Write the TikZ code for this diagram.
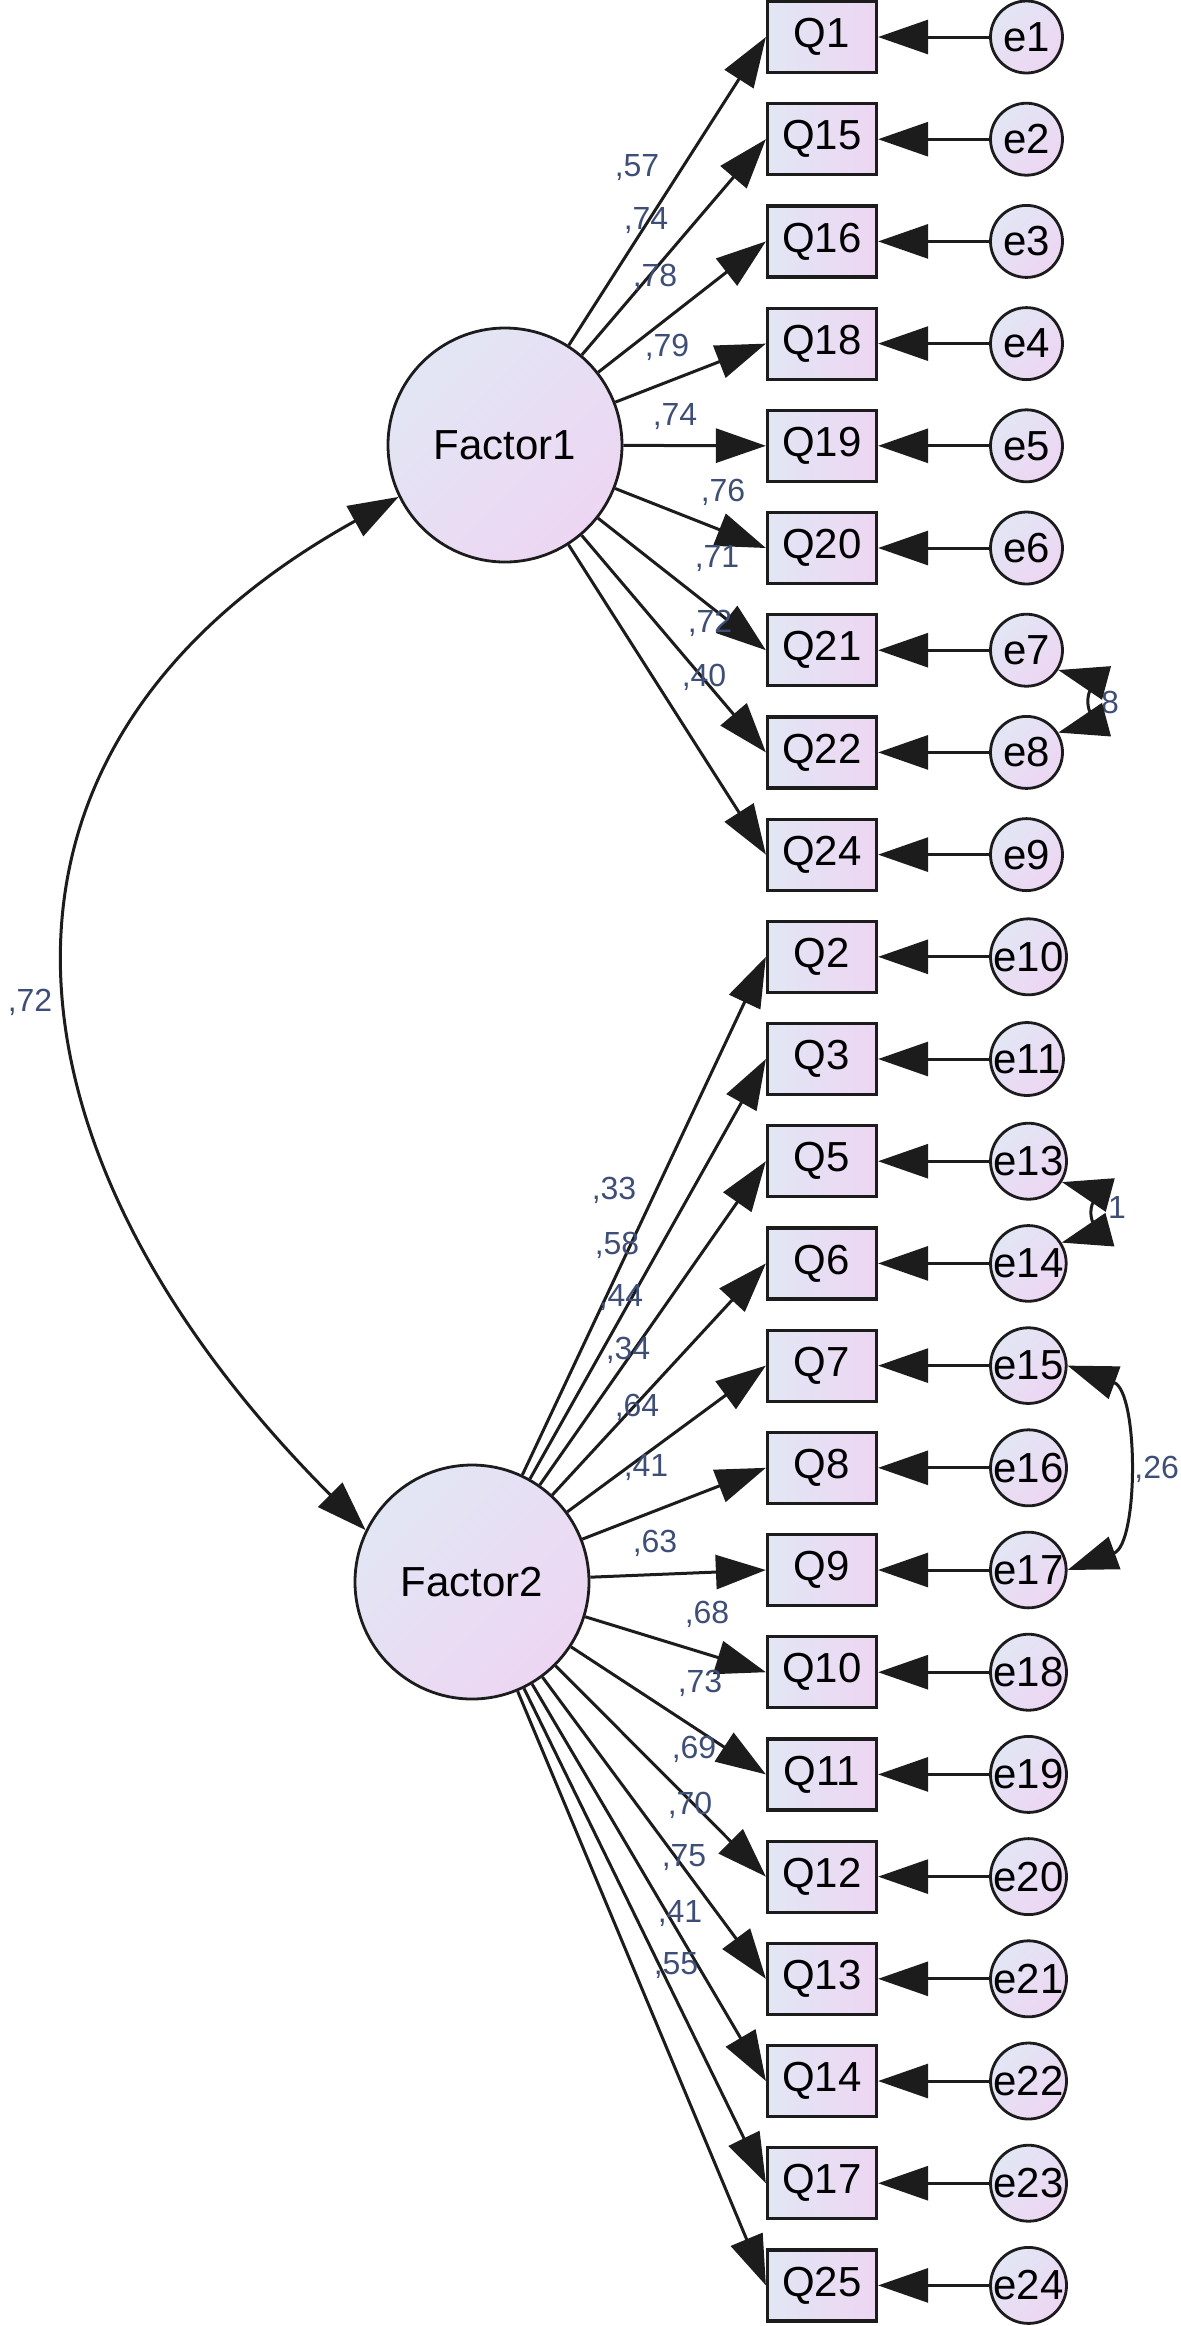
\documentclass[tikz,border=0pt]{standalone}
\usepackage{fontspec}
\setmainfont{Liberation Sans}
\usetikzlibrary{positioning,arrows.meta}

\definecolor{shadeA}{RGB}{226,230,244}
\definecolor{shadeB}{RGB}{237,214,243}
\definecolor{estcol}{RGB}{62,78,118}
\definecolor{linecol}{RGB}{28,28,28}

\begin{document}
\begin{tikzpicture}[
  x=0.5pt, y=0.5pt,
  latent/.style={
    circle, draw=linecol, line width=1.4pt,
    minimum size=117pt, inner sep=0pt,
    top color=shadeA, bottom color=shadeB, shading angle=45,
    font=\fontsize{21}{25}\selectfont
  },
  item/.style={
    rectangle, draw=linecol, line width=1.6pt,
    minimum width=54.5pt, minimum height=35.5pt, inner sep=0pt,
    left color=shadeA, right color=shadeB,
    font=\fontsize{21}{25}\selectfont
  },
  err/.style={
    circle, draw=linecol, line width=1.4pt,
    minimum size=36pt, inner sep=0pt,
    top color=shadeA, bottom color=shadeB, shading angle=45,
    font=\fontsize{21}{25}\selectfont
  },
  arr/.style={-{Triangle[length=25pt,width=17pt]}, line width=1.5pt, draw=linecol},
  cov/.style={{Triangle[length=25pt,width=17pt]}-{Triangle[length=25pt,width=17pt]}, line width=1.5pt, draw=linecol},
  est/.style={font=\fontsize{16}{19}\selectfont, text=estcol, inner sep=0pt}
]
\useasboundingbox (0,0) rectangle (1180,-2326);

% Observed items and their errors
\foreach \q/\e [count=\i from 0] in {Q1/e1,Q15/e2,Q16/e3,Q18/e4,Q19/e5,Q20/e6,Q21/e7,Q22/e8,Q24/e9,
    Q2/e10,Q3/e11,Q5/e13,Q6/e14,Q7/e15,Q8/e16,Q9/e17,Q10/e18,Q11/e19,Q12/e20,Q13/e21,Q14/e22,Q17/e23,Q25/e24}{
  \node[item] (\q) at (822,{-37-102.2*\i}) {\q};
  \node[err, right=55.5pt of \q] (\e) {\e};
  \draw[arr] (\e) -- (\q);
}

% Factors
\node[latent] (F1) at (505,-445) {Factor1};
\node[latent] (F2) at (472,-1582) {Factor2};

\foreach \q in {Q1,Q15,Q16,Q18,Q19,Q20,Q21,Q22,Q24}
  \draw[arr] (F1) -- (\q.west);
\foreach \q in {Q2,Q3,Q5,Q6,Q7,Q8,Q9,Q10,Q11,Q12,Q13,Q14,Q17,Q25}
  \draw[arr] (F2) -- (\q.west);

% Loadings
\foreach \v/\x/\y [count=\k] in {57/637/168,74/646/221,78/655/277,79/667/347,74/675/417,
    76/723/492,71/717/559,72/710/623,40/704/677,
    33/614/1190,58/617/1245,44/621/1298,34/628/1350,64/637/1407,41/646/1468,63/655/1543,
    68/707/1614,73/700/1683,69/694/1749,70/690/1805,75/684/1858,41/680/1914,55/676/1966}
  \node[est] (l\k) at (\x,-\y) {,\v};

% Covariances
\node[est] (c1) at (1110,-702) {8};
\node[est] (c2) at (1117,-1207) {1};
\node[est, anchor=west] (c3) at (1134,-1469) {,26};
\node[est] (c0) at (30,-1002) {,72};

\draw[cov] (F1.206) to[out=209, in=135, looseness=1.3] (F2.154);
\draw[cov] (e7.-32) to[out=-15, in=15] (e8.32);
\draw[cov] (e13.-32) to[out=-15, in=15] (e14.32);
\draw[cov] (e15.east) to[out=-20, in=20, looseness=0.95] (e17.east);
\end{tikzpicture}
\end{document}
